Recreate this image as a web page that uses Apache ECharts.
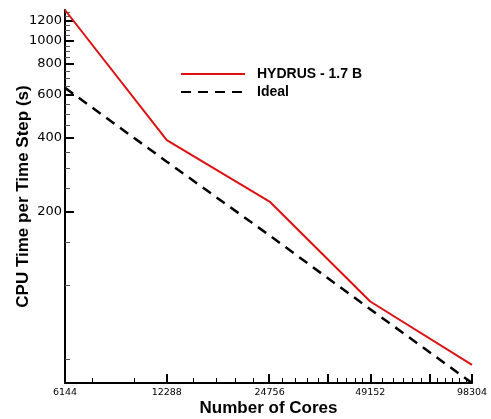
<!DOCTYPE html>
<html>
<head>
<meta charset="utf-8">
<script src="https://cdn.jsdelivr.net/npm/echarts@6/dist/echarts.min.js"></script>
<style>
html,body{margin:0;padding:0;background:#fff;}
#c{width:491px;height:419px;}
</style>
</head>
<body>
<div id="c"></div>
<script>
// Data
const cores = [6144, 12288, 24756, 49152, 98304];
const hydrus = [1330, 392, 220, 86, 47.4];
const ideal = [640, 320, 160, 80, 40];
const seriesNames = ['HYDRUS - 1.7 B', 'Ideal'];

// Tick labels / tick values
const xLabelValues = [6144, 12288, 24756, 49152, 98304];
const xMajorTicks = [6144, 12288, 24576, 36864, 49152, 73728, 98304];
const xMinorTicks = [7373, 9830, 14746, 17203, 19661, 22118, 27034, 29491, 31949, 34406, 39322, 41779, 44237, 46694, 53248, 57344, 61440, 65536, 69632, 77824, 81920, 86016, 90112, 94208];
const yLabelValues = [200, 400, 600, 800, 1000, 1200];
const yMinorTicks = [50, 100, 150, 250, 300, 350, 450, 500, 550, 650, 700, 750, 850, 900, 950, 1050, 1100, 1150, 1250, 1300];

const xMin = 6144, xMax = 98304, yMin = 40, yMax = 1330;

const chart = echarts.init(document.getElementById('c'), null, {renderer: 'canvas'});

const pairs = (xs, ys) => xs.map((x, i) => [x, ys[i]]);

chart.setOption({
  animation: false,
  backgroundColor: '#ffffff',
  grid: {left: 65, right: 19, top: 10, bottom: 36, containLabel: false, outerBoundsMode: 'none'},
  legend: {
    orient: 'vertical',
    left: 175,
    top: 62,
    itemWidth: 64,
    itemHeight: 14,
    itemGap: 4,
    data: seriesNames,
    itemStyle: {color: 'transparent', borderColor: 'transparent', borderWidth: 0},
    textStyle: {fontFamily: 'Liberation Sans', fontWeight: 'bold', fontSize: 14, color: '#000', padding: [0, 0, 0, 7]}
  },
  xAxis: [{
    type: 'log', logBase: 2, min: xMin, max: xMax,
    name: 'Number of Cores', nameLocation: 'middle', nameGap: 17, nameMoveOverlap: false,
    nameTextStyle: {fontFamily: 'Liberation Sans', fontWeight: 'bold', fontSize: 17, color: '#000'},
    axisLine: {show: true, lineStyle: {color: '#000', width: 2}},
    axisTick: {show: true, inside: true, length: 9, customValues: xMajorTicks, lineStyle: {color: '#000', width: 2}},
    axisLabel: {show: true, customValues: xLabelValues, margin: 5, fontFamily: 'DejaVu Sans', fontSize: 9.5, color: '#000', formatter: v => String(Math.round(v))},
    splitLine: {show: false}, minorTick: {show: false}
  }, {
    type: 'log', logBase: 2, min: xMin, max: xMax, position: 'bottom',
    axisLine: {show: false},
    axisTick: {show: true, inside: true, length: 5, customValues: xMinorTicks, lineStyle: {color: '#000', width: 1}},
    axisLabel: {show: false}, splitLine: {show: false}
  }],
  yAxis: [{
    type: 'log', logBase: 10, min: yMin, max: yMax,
    name: 'CPU Time per Time Step (s)', nameLocation: 'middle', nameGap: 33, nameMoveOverlap: false,
    nameTextStyle: {fontFamily: 'Liberation Sans', fontWeight: 'bold', fontSize: 17, color: '#000'},
    axisLine: {show: true, lineStyle: {color: '#000', width: 2}},
    axisTick: {show: true, inside: true, length: 9, customValues: yLabelValues, lineStyle: {color: '#000', width: 2}},
    axisLabel: {show: true, customValues: yLabelValues, margin: 3, fontFamily: 'DejaVu Sans', fontSize: 13, color: '#000', formatter: v => String(Math.round(v))},
    splitLine: {show: false}, minorTick: {show: false}
  }, {
    type: 'log', logBase: 10, min: yMin, max: yMax, position: 'left',
    axisLine: {show: false},
    axisTick: {show: true, inside: true, length: 5, customValues: yMinorTicks, lineStyle: {color: '#555', width: 1}},
    axisLabel: {show: false}, splitLine: {show: false}
  }],
  series: [{
    name: seriesNames[0], type: 'line', symbol: 'none',
    data: pairs(cores, hydrus),
    lineStyle: {color: '#dd1111', width: 2},
    itemStyle: {color: '#dd1111'}
  }, {
    name: seriesNames[1], type: 'line', symbol: 'none',
    data: pairs(cores, ideal),
    lineStyle: {color: '#000', width: 2.5, type: [10, 7]},
    itemStyle: {color: '#000'}
  }]
});
</script>
</body>
</html>
